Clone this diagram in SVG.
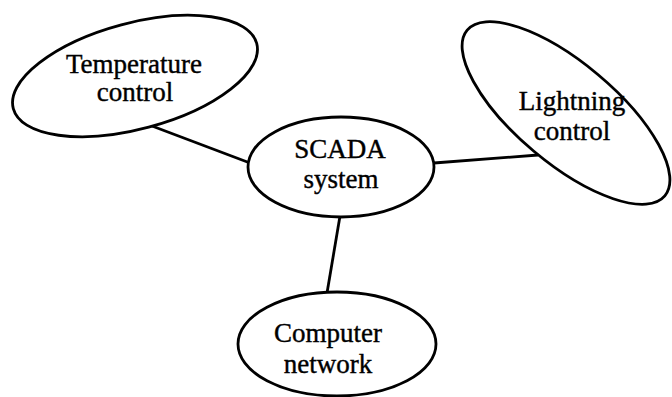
<svg xmlns="http://www.w3.org/2000/svg" width="672" height="397" viewBox="0 0 672 397">
  <style>
    .shape { fill: #ffffff; stroke: #000000; stroke-width: 2.8; }
    .link { stroke: #000000; stroke-width: 2.8; fill: none; }
    .label { font-family: "Liberation Serif", "Times New Roman", serif; font-size: 27px; fill: #000000; stroke: #000000; stroke-width: 0.4; text-anchor: middle; }
  </style>
  <rect width="672" height="397" fill="#ffffff"/>

  <g id="connectors">
    <line class="link" x1="152" y1="126" x2="250" y2="163"/>
    <line class="link" x1="434" y1="163" x2="538" y2="155"/>
    <line class="link" x1="340" y1="216" x2="327" y2="293"/>
  </g>

  <g id="temperature-control">
    <ellipse class="shape" cx="135" cy="76" rx="126" ry="53" transform="rotate(-15 135 76)"/>
    <text class="label" x="134" y="73">Temperature</text>
    <text class="label" x="135" y="101">control</text>
  </g>

  <g id="scada-system">
    <ellipse class="shape" cx="341" cy="167" rx="93" ry="50"/>
    <text class="label" x="340" y="158">SCADA</text>
    <text class="label" x="341" y="188">system</text>
  </g>

  <g id="lightning-control">
    <ellipse class="shape" cx="566" cy="113" rx="129" ry="50" transform="rotate(40 566 113)"/>
    <text class="label" x="572" y="110">Lightning</text>
    <text class="label" x="572" y="140">control</text>
  </g>

  <g id="computer-network">
    <ellipse class="shape" cx="337" cy="344" rx="99" ry="52"/>
    <text class="label" x="328" y="342">Computer</text>
    <text class="label" x="328" y="373">network</text>
  </g>
</svg>
